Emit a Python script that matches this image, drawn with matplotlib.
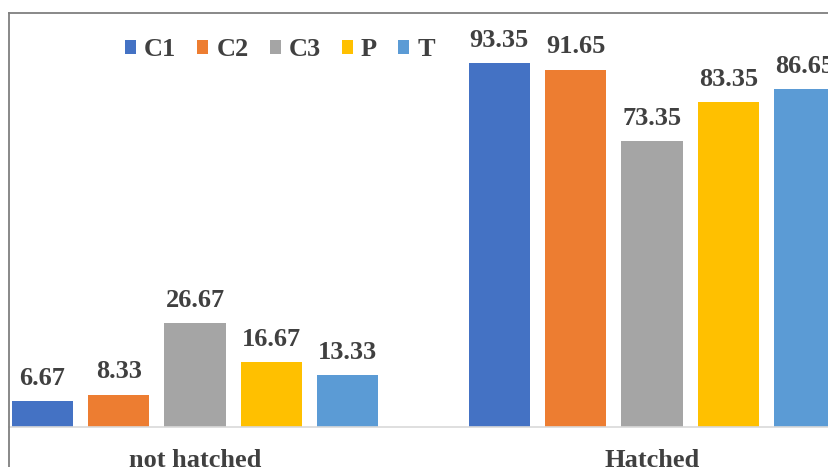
import matplotlib
matplotlib.use("Agg")
import matplotlib.pyplot as plt
from matplotlib.lines import Line2D
from matplotlib.patches import Patch

categories = ["not hatched", "Hatched"]
series = ["C1", "C2", "C3", "P", "T"]
values = {
    "C1": [6.67, 93.35],
    "C2": [8.33, 91.65],
    "C3": [26.67, 73.35],
    "P": [16.67, 83.35],
    "T": [13.33, 86.65],
}
colors = ["#4472C4", "#ED7D31", "#A5A5A5", "#FFC000", "#5B9BD5"]

plt.rcParams["font.family"] = ["Liberation Serif", "DejaVu Serif"]
plt.rcParams["font.weight"] = "bold"
text_color = "#404040"
fs = 19

W, H = 829, 467
fig = plt.figure(figsize=(W / 100, H / 100), dpi=100)
ax = fig.add_axes([0, 40 / H, 1, 390 / H])

step = 0.167
width = 0.1335
x = list(range(len(categories)))
for i, (name, col) in enumerate(zip(series, colors)):
    off = (i - 2) * step
    bars = ax.bar([xi + off for xi in x], values[name], width=width, color=col,
                  label=name, zorder=2)
    ax.bar_label(bars, labels=[f"{v:.2f}" for v in values[name]], padding=8,
                 fontsize=fs, fontweight="bold", color=text_color, clip_on=False)

xmin, xmax = -0.4267, 1.3873
ax.set_xlim(xmin, xmax)
ax.set_ylim(0, 100)
ax.set_yticks([])
ax.set_xticks(x)
ax.set_xticklabels(categories, fontsize=fs, fontweight="bold", color=text_color)
ax.tick_params(axis="x", length=0, pad=16)
for s in ["top", "left", "right"]:
    ax.spines[s].set_visible(False)
ax.spines["bottom"].set_color("#d9d9d9")
ax.spines["bottom"].set_linewidth(1.2)
ax.spines["bottom"].set_bounds(-0.407, xmax)
ax.patch.set_alpha(0)

# chart frame (top and left edges)
fig.add_artist(Line2D([9 / W, 9 / W], [0, 1 - 13 / H], color="#7f7f7f", lw=1.3,
                      transform=fig.transFigure))
fig.add_artist(Line2D([9 / W, 1], [1 - 13 / H, 1 - 13 / H], color="#7f7f7f", lw=1.3,
                      transform=fig.transFigure))

handles = [Patch(facecolor=c, edgecolor="none") for c in colors]
leg = fig.legend(handles, series, loc="center left", bbox_to_anchor=(125 / W, 1 - 50 / H),
                 ncol=5, frameon=False, fontsize=fs, handlelength=0.42, handleheight=0.42,
                 handletextpad=0.3, columnspacing=0.8, borderaxespad=0, borderpad=0)
for t in leg.get_texts():
    t.set_color(text_color)
    t.set_fontweight("bold")

fig.savefig("out.png", dpi=100)
